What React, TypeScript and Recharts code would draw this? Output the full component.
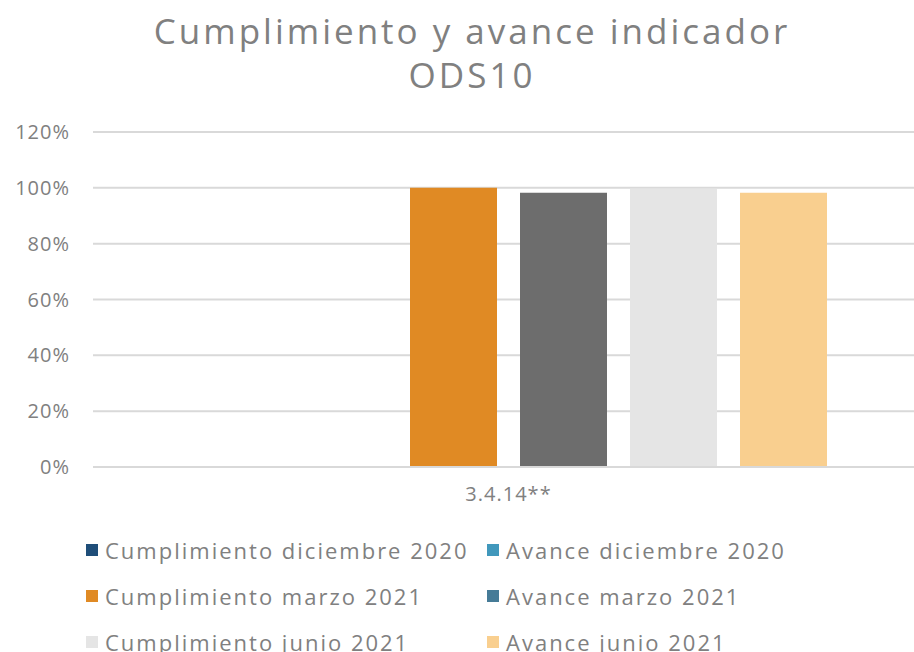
import { BarChart, Bar, XAxis, YAxis, CartesianGrid, Cell } from "recharts";

const categories = ["3.4.14**"];
const seriesNames = [
  "Cumplimiento diciembre 2020",
  "Avance diciembre 2020",
  "Cumplimiento marzo 2021",
  "Avance marzo 2021",
  "Cumplimiento junio 2021",
  "Avance junio 2021",
];
const seriesColors = ["#1F4E79", "#4198BC", "#E08A24", "#467B97", "#E5E5E5", "#F9CF8F"];
// the avance marzo bar is painted grey in the source, legend keeps the series colour
const barColors = ["#1F4E79", "#4198BC", "#E08A24", "#6D6D6D", "#E5E5E5", "#F9CF8F"];
const values: (number | null)[] = [null, null, 1.0, 0.982, 0.996, 0.982];
const yTicks = [0, 0.2, 0.4, 0.6, 0.8, 1.0, 1.2];

const FONT = "'Open Sans', sans-serif";
const TEXT = "#808080";

const data = categories.map((c) => {
  const row: Record<string, string | number | null> = { name: c };
  seriesNames.forEach((s, i) => {
    row[s] = values[i];
  });
  return row;
});

function LegendBox() {
  return (
    <div
      style={{
        position: "absolute",
        top: 535,
        left: 0,
        display: "grid",
        gridTemplateColumns: "401px 420px",
        rowGap: 17,
        paddingLeft: 86,
        fontFamily: FONT,
        fontSize: 22,
        letterSpacing: 2,
        color: TEXT,
      }}
    >
      {seriesNames.map((s, i) => (
        <div key={s} style={{ display: "flex", alignItems: "center", height: 29, whiteSpace: "nowrap" }}>
          <span style={{ width: 12, height: 12, background: seriesColors[i], marginRight: 7, flexShrink: 0 }} />
          {s}
        </div>
      ))}
    </div>
  );
}

export default function App() {
  return (
    <div
      style={{
        position: "absolute",
        left: 0,
        top: 0,
        width: 914,
        height: 652,
        overflow: "hidden",
        background: "#fff",
      }}
    >
      <div
        style={{
          position: "absolute",
          left: 0,
          top: 9,
          width: 944,
          textAlign: "center",
          fontFamily: FONT,
          fontSize: 35,
          letterSpacing: 3,
          lineHeight: "44px",
          color: TEXT,
        }}
      >
        Cumplimiento y avance indicador
        <br />
        ODS10
      </div>
      <BarChart
        width={924}
        height={652}
        data={data}
        margin={{ top: 132, right: 0, bottom: 145, left: 0 }}
        barGap={23}
      >
        <CartesianGrid vertical={false} stroke="#D9D9D9" strokeWidth={2} />
        <XAxis
          dataKey="name"
          axisLine={{ stroke: "#D9D9D9", strokeWidth: 2 }}
          tickLine={false}
          tick={{ fill: TEXT, fontSize: 20, fontFamily: FONT, letterSpacing: 1 }}
          tickMargin={14}
          height={40}
        />
        <YAxis
          domain={[0, 1.2]}
          ticks={yTicks}
          axisLine={false}
          tickLine={false}
          width={93}
          tickMargin={17}
          tick={{ fill: TEXT, fontSize: 20, fontFamily: FONT, letterSpacing: 1 }}
          tickFormatter={(v: number) => `${Math.round(v * 100)}%`}
        />
        {seriesNames.map((s, i) => (
          <Bar key={s} dataKey={s} fill={seriesColors[i]} barSize={87} isAnimationActive={false}>
            {data.map((_, j) => (
              <Cell key={j} fill={barColors[i]} />
            ))}
          </Bar>
        ))}
      </BarChart>
      <LegendBox />
    </div>
  );
}
